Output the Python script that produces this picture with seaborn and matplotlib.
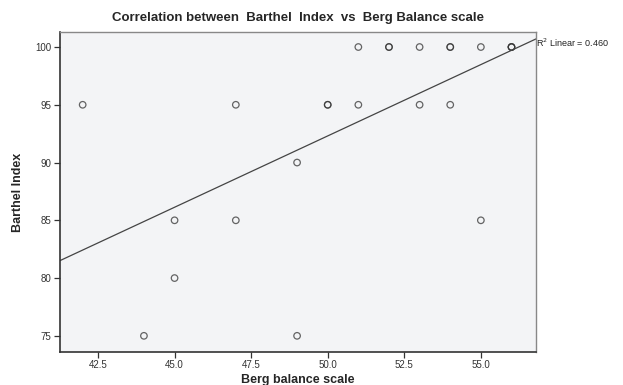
import matplotlib
matplotlib.use("Agg")
import matplotlib.pyplot as plt
import seaborn as sns
import pandas as pd
import numpy as np

berg = [42, 44, 45, 45, 47, 47, 49, 49, 50, 50, 51, 51, 52, 52, 53, 53,
        54, 54, 54, 55, 55, 56, 56, 56]
barthel = [95, 75, 85, 80, 95, 85, 90, 75, 95, 95, 100, 95, 100, 100, 100, 95,
           100, 100, 95, 100, 85, 100, 100, 100]
xticks = [42.5, 45.0, 47.5, 50.0, 52.5, 55.0]
yticks = [75, 80, 85, 90, 95, 100]
r2_label = "R$^2$ Linear = 0.460"

df = pd.DataFrame({"Berg balance scale": berg, "Barthel Index": barthel})

sns.set_theme(style="white")
plt.rcParams['font.family'] = ['Liberation Sans', 'DejaVu Sans']

fig = plt.figure(figsize=(6.23, 3.85), dpi=100)
ax = fig.add_axes([60/623, 33/385, 476/623, 320/385])
ax.set_facecolor("#F3F4F6")
ax.set_xlim(41.26, 56.8)
ax.set_ylim(73.6, 101.3)

sns.regplot(data=df, x="Berg balance scale", y="Barthel Index", ax=ax,
            ci=None, truncate=False,
            scatter_kws=dict(s=22, facecolors="none", edgecolors="#333333",
                             linewidths=0.9, alpha=0.75),
            line_kws=dict(color="#444444", linewidth=0.9))

ax.set_xlim(41.26, 56.8)
ax.set_ylim(73.6, 101.3)
ax.set_xticks(xticks)
ax.set_xticklabels([f"{t:.1f}" for t in xticks])
ax.set_yticks(yticks)
ax.tick_params(axis="both", which="both", direction="out", length=4, width=0.9,
               color="#333333", labelsize=7, labelcolor="#333333",
               bottom=True, left=True, pad=2)
for side in ["left", "bottom"]:
    ax.spines[side].set_color("#333333")
    ax.spines[side].set_linewidth(1.2)
for side in ["top", "right"]:
    ax.spines[side].set_color("#888888")
    ax.spines[side].set_linewidth(1.0)

ax.set_xlabel("Berg balance scale", fontsize=9, fontweight="bold", labelpad=3)
ax.set_ylabel("Barthel Index", fontsize=9, fontweight="bold", labelpad=8,
              fontstretch="condensed")
ax.set_title("Correlation between  Barthel  Index  vs  Berg Balance scale",
             fontsize=9.5, fontweight="bold", pad=8)

ax.annotate(r2_label, xy=(1.0, 0.965), xycoords="axes fraction",
            ha="left", va="center", fontsize=6.5, color="#222222")

fig.savefig("out.png", dpi=100)
